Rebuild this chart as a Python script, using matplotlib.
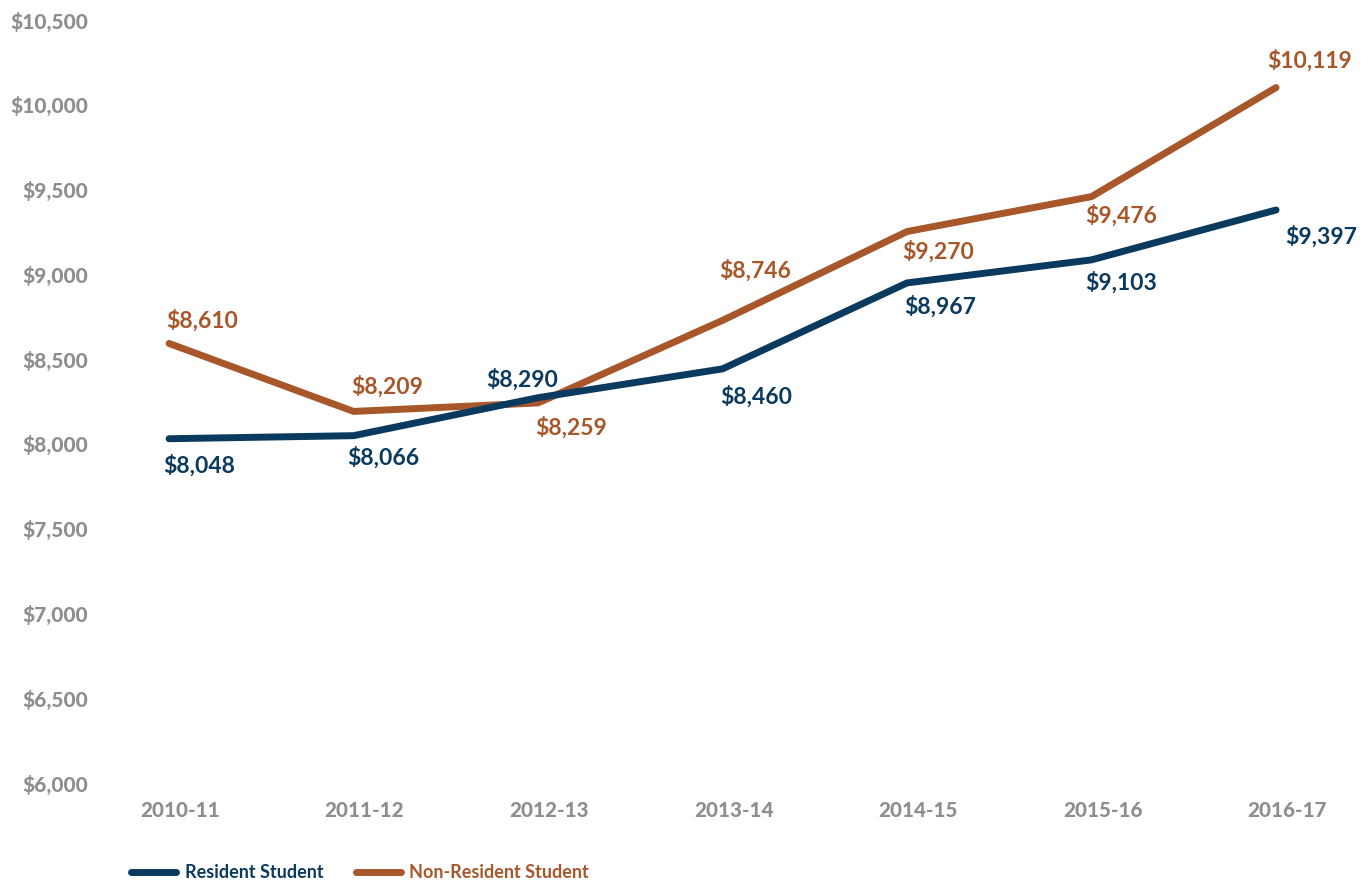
import matplotlib
matplotlib.use("Agg")
import matplotlib.pyplot as plt
from matplotlib.lines import Line2D
from matplotlib.ticker import FuncFormatter, MultipleLocator
from matplotlib.transforms import ScaledTranslation

YEARS = ["2010-11", "2011-12", "2012-13", "2013-14", "2014-15", "2015-16", "2016-17"]
RESIDENT = [8048, 8066, 8290, 8460, 8967, 9103, 9397]
NON_RESIDENT = [8610, 8209, 8259, 8746, 9270, 9476, 10119]

NAVY = "#0B3A5F"
ORANGE = "#A8572A"
GREY = "#8E8E8E"

# label offsets in points (dx, dy) relative to each data point
RES_OFFS = [(21.6, -19.4), (21.4, -16), (-11.5, 12.8), (24, -20), (23.8, -17.3), (21.2, -16.6), (32.4, -19.4)]
NON_OFFS = [(23.8, 16.6), (24.5, 17.7), (23.8, -18), (23.4, 35.7), (22.3, -14.6), (21.2, -13.8), (23.8, 19.4)]

plt.rcParams["font.family"] = ["Lato", "DejaVu Sans"]

fig = plt.figure(figsize=(13.69, 8.84), dpi=100)
ax = fig.add_axes([0.0561, 0.1109, 0.9434, 0.8631])

x = list(range(len(YEARS)))
ax.plot(x, RESIDENT, color=NAVY, lw=5, solid_capstyle="round", zorder=3)
ax.plot(x, NON_RESIDENT, color=ORANGE, lw=5, solid_capstyle="round", zorder=2)

for xi, v, (dx, dy) in zip(x, RESIDENT, RES_OFFS):
    ax.annotate(f"${v:,}", (xi, v), xytext=(dx, dy), textcoords="offset points",
                ha="center", va="center", fontsize=16.5, fontweight="bold", color=NAVY)
for xi, v, (dx, dy) in zip(x, NON_RESIDENT, NON_OFFS):
    ax.annotate(f"${v:,}", (xi, v), xytext=(dx, dy), textcoords="offset points",
                ha="center", va="center", fontsize=16.5, fontweight="bold", color=ORANGE)

ax.set_xlim(-0.5, 6.5)
ax.set_ylim(6000, 10500)
ax.yaxis.set_major_locator(MultipleLocator(500))
ax.yaxis.set_major_formatter(FuncFormatter(lambda v, p: f"${v:,.0f}"))
ax.set_xticks(x)
ax.set_xticklabels(YEARS)
ax.tick_params(axis="x", length=0, labelsize=14.8, labelcolor=GREY, pad=11)
ax.tick_params(axis="y", length=0, labelsize=15, labelcolor=GREY, pad=0)
shift = ScaledTranslation(11 / 100, 0, fig.dpi_scale_trans)
yshift = ScaledTranslation(11 / 100, 3 / 100, fig.dpi_scale_trans)
for lab in ax.get_xticklabels():
    lab.set_fontweight("black")
    lab.set_transform(lab.get_transform() + shift)
for lab in ax.get_yticklabels():
    lab.set_fontweight("black")
    lab.set_transform(lab.get_transform() + yshift)
for s in ax.spines.values():
    s.set_visible(False)

handles = [
    Line2D([], [], color=NAVY, lw=5, solid_capstyle="round"),
    Line2D([], [], color=ORANGE, lw=5, solid_capstyle="round"),
]
leg = fig.legend(handles, ["Resident Student", "Non-Resident Student"],
                 loc="center left", bbox_to_anchor=(0.084, 0.0125), ncol=2,
                 frameon=False, handlelength=2.5, handletextpad=0.45,
                 columnspacing=1.8, prop={"weight": "bold", "size": 13})
for t, c in zip(leg.get_texts(), [NAVY, ORANGE]):
    t.set_color(c)

fig.savefig("out.png", dpi=100)
